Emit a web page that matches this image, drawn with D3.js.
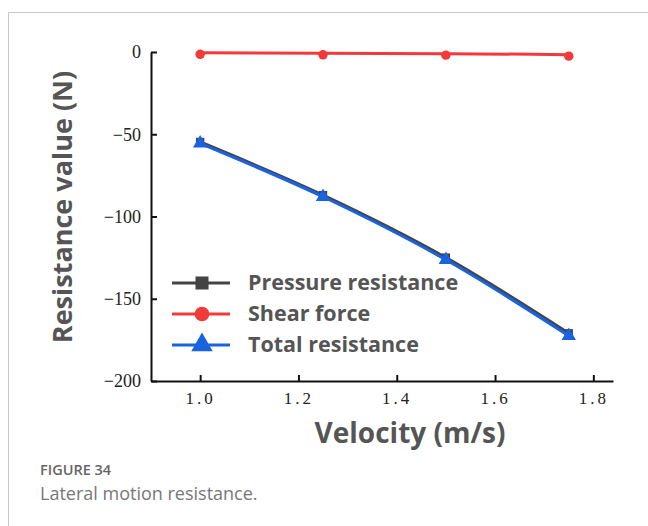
<!DOCTYPE html>
<html>
<head>
<meta charset="utf-8">
<script src="https://cdn.jsdelivr.net/npm/d3@7"></script>
<style>
  body { margin: 0; background: #fff; }
  svg { display: block; }
</style>
</head>
<body>
<svg id="chart" width="648" height="526"></svg>
<script>
// data
velocity = [1.0, 1.25, 1.5, 1.75]
pressure = [-54.7, -87, -125, -171]
shear = [-0.5, -0.8, -1.0, -1.6]
total = [-55.5, -88, -126.3, -172.5]
series_names = ["Pressure resistance", "Shear force", "Total resistance"]
series_colors = ["#444444", "#f23a3a", "#1a63e0"]
series_symbols = [d3.symbolSquare, d3.symbolCircle, d3.symbolTriangle]
x_ticks = [1.0, 1.2, 1.4, 1.6, 1.8]
y_ticks = [0, -50, -100, -150, -200]

let svg = d3.select("#chart")

// frame of the page
svg.append("path")
  .attr("d", "M8.5,526 V12.5 H648")
  .attr("fill", "none")
  .attr("stroke", "#c8c8c8")
  .attr("stroke-width", 1)

let x = d3.scaleLinear().domain([0.9, 1.84]).range([151, 613])
let y = d3.scaleLinear().domain([-200, 0]).range([381, 52])

// axes, ticks point inward
let x_axis = d3.axisBottom(x).tickValues(x_ticks).tickSizeInner(-6).tickSizeOuter(0)
  .tickPadding(11).tickFormat(d3.format(".1f"))
let y_axis = d3.axisLeft(y).tickValues(y_ticks).tickSizeInner(-6).tickSizeOuter(0)
  .tickPadding(10).tickFormat(d => d == 0 ? "0" : "\u2212" + Math.abs(d))

let gx = svg.append("g").attr("transform", "translate(0,381)").call(x_axis)
let gy = svg.append("g").attr("transform", "translate(151,0)").call(y_axis)

;[gx, gy].forEach(g => {
  g.select(".domain").attr("stroke", "#111").attr("stroke-width", 2)
  g.selectAll(".tick line").attr("stroke", "#111").attr("stroke-width", 2)
  g.selectAll(".tick text")
    .attr("fill", "#222")
    .style("font-family", "'Liberation Serif', 'DejaVu Serif', serif")
    .style("font-size", "18px")
})
gx.selectAll(".tick text").attr("letter-spacing", "3px").style("font-size", "17px")

// axis titles
svg.append("text")
  .attr("x", 410).attr("y", 443)
  .attr("text-anchor", "middle")
  .attr("fill", "#555")
  .style("font-family", "'Open Sans', 'Noto Sans', sans-serif")
  .style("font-weight", "bold")
  .style("font-size", "28px")
  .text("Velocity (m/s)")

svg.append("text")
  .attr("transform", "translate(72,207) rotate(-90)")
  .attr("text-anchor", "middle")
  .attr("fill", "#555")
  .style("font-family", "'Open Sans', 'Noto Sans', sans-serif")
  .style("font-weight", "bold")
  .style("font-size", "27px")
  .text("Resistance value (N)")

// lines
let all_series = [pressure, shear, total]
let line_gen = d3.line()
  .x((d, i) => x(velocity[i]))
  .y(d => y(d))
  .curve(d3.curveMonotoneX)

all_series.forEach((vals, k) => {
  svg.append("path")
    .datum(vals)
    .attr("d", line_gen)
    .attr("fill", "none")
    .attr("stroke", series_colors[k])
    .attr("stroke-width", 3)

  svg.selectAll(null)
    .data(vals).enter()
    .append("path")
    .attr("d", d3.symbol().type(series_symbols[k]).size(k == 2 ? 90 : 70))
    .attr("transform", (d, i) => `translate(${x(velocity[i])},${y(d) + (k == 1 ? 1.5 : 0)})`)
    .attr("fill", series_colors[k])
})

// legend
let legend = svg.append("g")
series_names.forEach((name, k) => {
  let ly = 283 + k * 31
  legend.append("line")
    .attr("x1", 172).attr("x2", 230)
    .attr("y1", ly).attr("y2", ly)
    .attr("stroke", series_colors[k])
    .attr("stroke-width", 3)
  legend.append("path")
    .attr("d", d3.symbol().type(series_symbols[k]).size(k == 2 ? 200 : 170))
    .attr("transform", `translate(202,${ly})`)
    .attr("fill", series_colors[k])
  legend.append("text")
    .attr("x", 248).attr("y", ly + 7)
    .attr("fill", "#555")
    .style("font-family", "'Open Sans', 'Noto Sans', sans-serif")
    .style("font-weight", "bold")
    .style("font-size", "21.5px")
    .text(name)
})

// caption
svg.append("text")
  .attr("x", 40).attr("y", 475)
  .attr("fill", "#666")
  .style("font-family", "'Open Sans', 'Noto Sans', sans-serif")
  .style("font-weight", "600")
  .style("font-size", "14.5px")
  .text("FIGURE 34")

svg.append("text")
  .attr("x", 40).attr("y", 500)
  .attr("fill", "#777")
  .style("font-family", "'Open Sans', 'Noto Sans', sans-serif")
  .style("font-size", "18px")
  .text("Lateral motion resistance.")
</script>
</body>
</html>
